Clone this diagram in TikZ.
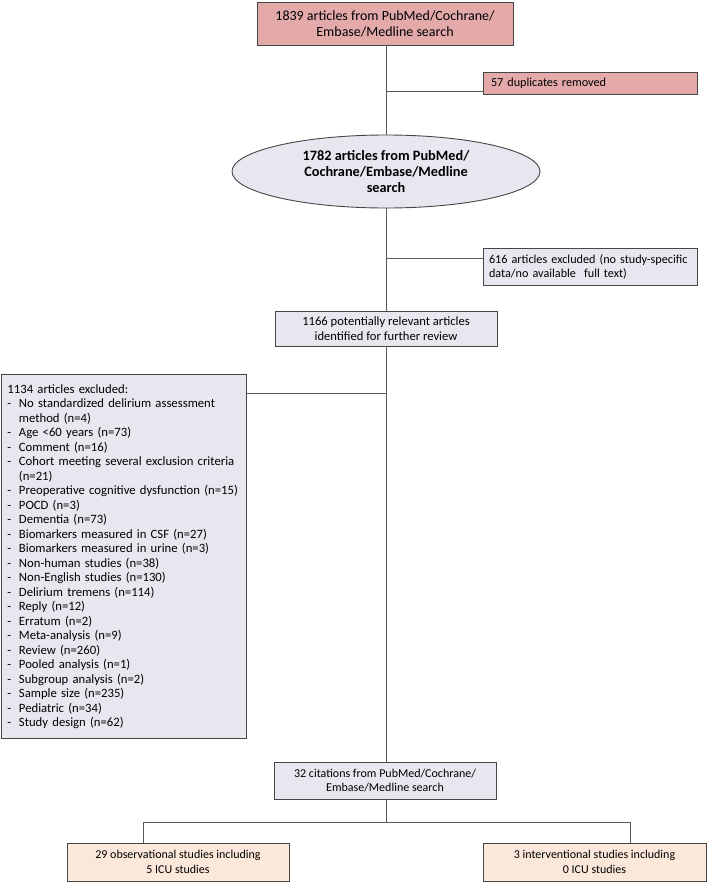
\documentclass[tikz,border=0pt]{standalone}
\usepackage{fontspec}
\setmainfont{Carlito}
\usetikzlibrary{shapes.geometric}
\definecolor{pinkfill}{RGB}{228,170,170}
\definecolor{lavfill}{RGB}{234,230,240}
\definecolor{peachfill}{RGB}{252,232,218}
\definecolor{edgegray}{RGB}{70,70,70}
\definecolor{linegray}{RGB}{90,90,90}
\newcommand{\fs}[2]{\fontsize{#1}{#2}\selectfont}
\newcommand{\dash}{\makebox[11.5pt][l]{-}}
\newcommand{\cont}{\hspace*{11.5pt}}
\begin{document}
\begin{tikzpicture}[x=1pt,y=-1pt,
  box/.style={draw=edgegray, line width=0.9pt, rectangle, inner sep=0pt, align=center},
  pinkbox/.style={box, fill=pinkfill},
  lavbox/.style={box, fill=lavfill},
  peachbox/.style={box, fill=peachfill},
  conn/.style={draw=linegray, line width=0.9pt}]
\useasboundingbox (0,0) rectangle (708,884);

\node[pinkbox, minimum width=256pt, minimum height=43pt, font=\fs{14}{16}] (top) at (385,23.5)
  {1839 articles from PubMed/Cochrane/\\Embase/Medline search};
\node[pinkbox, minimum width=214pt, minimum height=22pt, font=\fs{12.2}{15}, align=left, text width=198pt] (dup) at (590,83)
  {57 duplicates removed};
\node[draw=edgegray, line width=0.9pt, ellipse, fill=lavfill, minimum width=308pt, minimum height=73pt, inner sep=0pt, align=center, font=\bfseries\fs{14.3}{16}] (ell) at (386,171.5)
  {1782 articles from PubMed/\\Cochrane/Embase/Medline\\search};
\node[lavbox, minimum width=214pt, minimum height=37pt, font=\fs{12.2}{14}, align=left, text width=202pt] (exc) at (590,266.5)
  {616 articles excluded (no study-specific\\data/no available\ \ full text)};
\node[lavbox, minimum width=222pt, minimum height=35pt, font=\fs{12.6}{14.5}] (rel) at (386,328.5)
  {1166 potentially relevant articles\\identified for further review};
\node[lavbox, anchor=north west, minimum width=245pt, minimum height=364pt, font=\fs{12.7}{14.5}, align=left, text width=233pt] (list) at (1,374)
  {1134 articles excluded:\\
  \dash No standardized delirium assessment\\
  \cont method (n=4)\\
  \dash Age <60 years (n=73)\\
  \dash Comment (n=16)\\
  \dash Cohort meeting several exclusion criteria\\
  \cont (n=21)\\
  \dash Preoperative cognitive dysfunction (n=15)\\
  \dash POCD (n=3)\\
  \dash Dementia (n=73)\\
  \dash Biomarkers measured in CSF (n=27)\\
  \dash Biomarkers measured in urine (n=3)\\
  \dash Non-human studies (n=38)\\
  \dash Non-English studies (n=130)\\
  \dash Delirium tremens (n=114)\\
  \dash Reply (n=12)\\
  \dash Erratum (n=2)\\
  \dash Meta-analysis (n=9)\\
  \dash Review (n=260)\\
  \dash Pooled analysis (n=1)\\
  \dash Subgroup analysis (n=2)\\
  \dash Sample size (n=235)\\
  \dash Pediatric (n=34)\\
  \dash Study design (n=62)};
\node[lavbox, minimum width=222pt, minimum height=37pt, font=\fs{12}{14}] (cit) at (385,780.5)
  {32 citations from PubMed/Cochrane/\\Embase/Medline search};
\node[peachbox, minimum width=222pt, minimum height=38pt, font=\fs{12}{15}] (obs) at (178,862)
  {29 observational studies including\\5 ICU studies};
\node[peachbox, minimum width=223pt, minimum height=38pt, font=\fs{12}{15}] (int) at (594.5,862)
  {3 interventional studies including\\0 ICU studies};

\coordinate (j1) at (386,91);
\coordinate (j2) at (386,258);
\coordinate (j3) at (386,393);
\coordinate (j4) at (386,822);
\coordinate (jl) at (143,822);
\coordinate (jr) at (630,822);

\draw[conn] (top.south -| j1) -- (ell.north -| j1);
\draw[conn] (ell.south -| j1) -- (rel.north -| j1);
\draw[conn] (rel.south -| j1) -- (cit.north -| j1);
\draw[conn] (j1) -- (j1 -| dup.west);
\draw[conn] (j2) -- (j2 -| exc.west);
\draw[conn] (j3) -- (j3 -| list.east);
\draw[conn] (cit.south -| j4) -- (j4);
\draw[conn] (obs.north -| jl) -- (jl) -- (jr) -- (int.north -| jr);
\end{tikzpicture}
\end{document}
